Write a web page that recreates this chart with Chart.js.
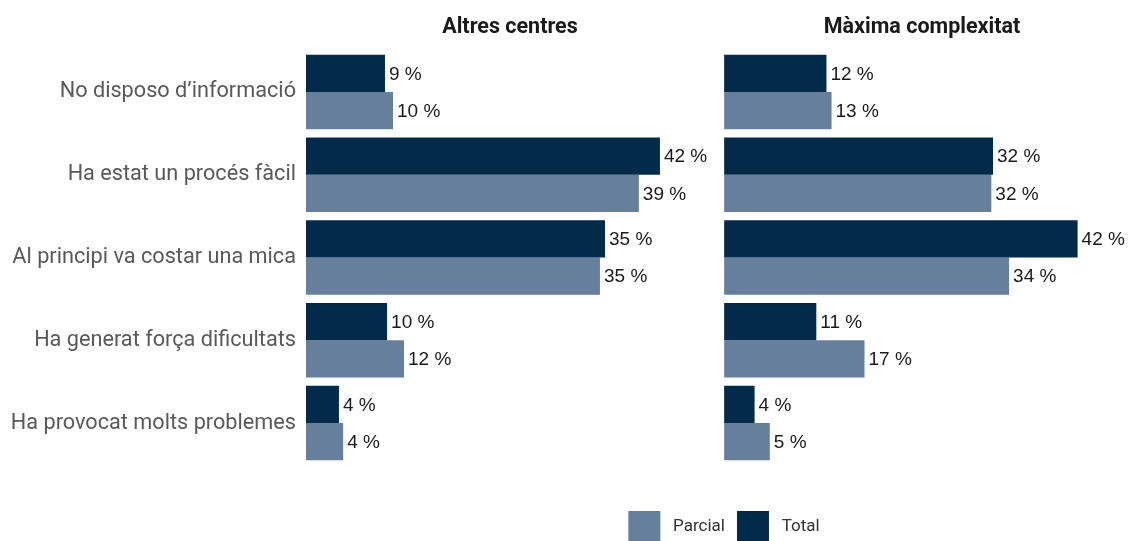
<!DOCTYPE html>
<html>
<head>
<meta charset="utf-8">
<script src="https://cdn.jsdelivr.net/npm/chart.js@4"></script>
<style>
  html, body { margin: 0; padding: 0; background: #fff; overflow: hidden; }
  #wrap { position: relative; width: 1131px; height: 553px; }
</style>
</head>
<body>
<div id="wrap"><canvas id="chartBars"></canvas></div>
<script>
const categories = [
    'No disposo d’informació',
    'Ha estat un procés fàcil',
    'Al principi va costar una mica',
    'Ha generat força dificultats',
    'Ha provocat molts problemes'
];
const panels = ['Altres centres', 'Màxima complexitat'];

// labels show the rounded value
const altresTotal = [9.35, 41.9, 35.4, 9.6, 3.9];
const altresParcial = [10.3, 39.4, 34.8, 11.6, 4.4];
const maximaTotal = [12.1, 31.8, 41.8, 10.9, 3.6];
const maximaParcial = [12.7, 31.6, 33.7, 16.6, 5.4];

const totalColor = '#022b4a';
const parcialColor = '#667f9d';

Chart.defaults.font.family = 'Roboto';

// draws "NN %" right of every bar
const valueLabels = {
    id: 'valueLabels',
    afterDatasetsDraw(chart) {
        const ctx = chart.ctx;
        ctx.save();
        ctx.font = '19px "Liberation Sans", Arial, sans-serif';
        ctx.fillStyle = '#1a1a1a';
        ctx.textBaseline = 'middle';
        chart.data.datasets.forEach((ds, i) => {
            chart.getDatasetMeta(i).data.forEach((bar, j) => {
                ctx.fillText(Math.round(ds.data[j]) + ' %', bar.x + 4, bar.y + 1);
            });
        });
        ctx.restore();
    }
};

// nudge the legend row a little to the right
const legendShift = {
    id: 'legendShift',
    afterLayout(chart) {
        chart.legend.left += 6;
        chart.legend.right += 6;
    }
};

const panelAxis = (title, min, max, weight) => ({
    type: 'linear',
    position: 'top',
    stack: 'panels',
    stackWeight: weight,
    min: min,
    max: max,
    stacked: false,
    grid: { display: false, drawTicks: false },
    border: { display: false },
    ticks: { display: false },
    title: {
        display: true,
        text: title,
        color: '#1a1a1a',
        font: { family: 'Roboto', size: 21.5, weight: 'bold' },
        padding: { top: 15, bottom: 0 }
    },
    afterFit: s => { s.height = 50.5; }
});

const defaultLabels = Chart.defaults.plugins.legend.labels.generateLabels;

const config = {
    type: 'bar',
    data: {
        labels: categories,
        datasets: [
            { label: 'Total', data: altresTotal, xAxisID: 'x', stack: 'total', backgroundColor: totalColor },
            { label: 'Parcial', data: altresParcial, xAxisID: 'x', stack: 'parcial', backgroundColor: parcialColor },
            { label: 'Total', data: maximaTotal, xAxisID: 'x2', stack: 'total', backgroundColor: totalColor },
            { label: 'Parcial', data: maximaParcial, xAxisID: 'x2', stack: 'parcial', backgroundColor: parcialColor }
        ]
    },
    options: {
        indexAxis: 'y',
        responsive: true,
        maintainAspectRatio: false,
        animation: false,
        categoryPercentage: 0.9,
        barPercentage: 1.0,
        borderWidth: 0,
        layout: { padding: { left: 0, right: 1, top: 0, bottom: 0 } },
        scales: {
            y: {
                type: 'category',
                position: 'left',
                grid: { display: false, drawTicks: false },
                border: { display: false },
                ticks: { color: '#595959', padding: 10, font: { family: 'Roboto', size: 21.7 } },
                afterFit: s => { s.width = 306; }
            },
            // top boxes are laid out in reverse, so the right panel comes first here
            x2: panelAxis(panels[1], -1.2, 48.0, 416),
            x: panelAxis(panels[0], 0, 48.3, 408)
        },
        plugins: {
            tooltip: { enabled: false },
            legend: {
                position: 'bottom',
                fullSize: false,
                reverse: true,
                // empty title only pushes the legend row down
                title: { display: true, text: ' ', font: { size: 10 }, padding: { top: 22.5, bottom: 0 } },
                labels: {
                    filter: item => item.datasetIndex < 2,
                    generateLabels: chart => defaultLabels(chart).map(l => Object.assign(l, { text: ' ' + l.text })),
                    boxWidth: 32,
                    boxHeight: 32,
                    padding: 12,
                    color: '#333333',
                    font: { family: 'Roboto', size: 17 }
                }
            }
        }
    },
    plugins: [valueLabels, legendShift]
};

const chartBars = new Chart(document.getElementById('chartBars'), config);
</script>
</body>
</html>
